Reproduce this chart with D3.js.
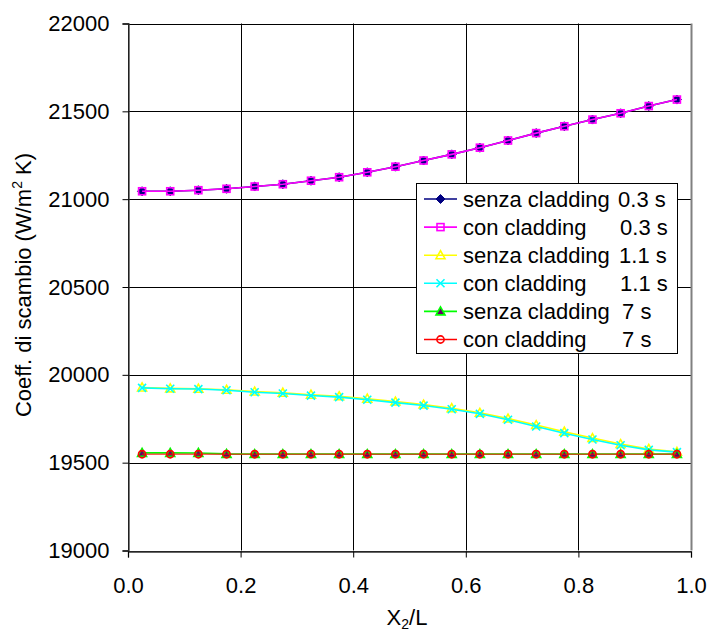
<!DOCTYPE html>
<html>
<head>
<meta charset="utf-8">
<script src="https://cdn.jsdelivr.net/npm/d3@7/dist/d3.min.js"></script>
<style>
  html, body { margin: 0; padding: 0; background: #fff; }
  svg { display: block; font-family: "Liberation Sans", Arial, sans-serif; }
</style>
</head>
<body>
<svg id="chart" width="709" height="632"></svg>
<script>
// ---- data ----
const xValues = [0.025, 0.075, 0.125, 0.175, 0.225, 0.275, 0.325, 0.375, 0.425, 0.475,
                 0.525, 0.575, 0.625, 0.675, 0.725, 0.775, 0.825, 0.875, 0.925, 0.975];
const senza03 = [21045, 21045, 21051, 21059, 21072, 21085, 21105, 21125, 21153, 21185,
                 21220, 21255, 21293, 21334, 21376, 21415, 21453, 21489, 21530, 21567];
const con03   = [21045, 21045, 21051, 21059, 21072, 21085, 21105, 21125, 21153, 21185,
                 21220, 21255, 21293, 21334, 21376, 21415, 21453, 21489, 21530, 21567];
const senza11 = [19928, 19923, 19921, 19915, 19905, 19898, 19887, 19878, 19864, 19848,
                 19831, 19810, 19784, 19751, 19714, 19676, 19640, 19606, 19578, 19562];
const con11   = [19926, 19921, 19919, 19912, 19901, 19894, 19882, 19873, 19858, 19842,
                 19825, 19804, 19778, 19744, 19706, 19668, 19632, 19599, 19573, 19560];
const senza7  = [19556, 19556, 19555, 19550, 19549, 19549, 19549, 19549, 19549, 19549,
                 19549, 19549, 19549, 19549, 19549, 19549, 19549, 19549, 19549, 19549];
const con7    = [19548, 19548, 19548, 19548, 19548, 19548, 19548, 19548, 19548, 19548,
                 19548, 19548, 19548, 19548, 19548, 19548, 19548, 19548, 19548, 19548];
const xTicks = [0, 0.2, 0.4, 0.6, 0.8, 1.0];
const yTicks = [19000, 19500, 20000, 20500, 21000, 21500, 22000];
const legendNames = ["senza cladding", "con cladding", "senza cladding", "con cladding", "senza cladding", "con cladding"];
const legendTimes = ["0.3 s", "0.3 s", "1.1 s", "1.1 s", "7 s", "7 s"];

const series = [
  { values: senza03, color: "#000080", marker: "diamond", timeX: 618 },
  { values: con03,   color: "#ff00ff", marker: "square",  timeX: 620 },
  { values: senza11, color: "#ffff00", marker: "triangle", timeX: 619 },
  { values: con11,   color: "#00ffff", marker: "x",       timeX: 620 },
  { values: senza7,  color: "#00ff00", marker: "triFilled", timeX: 622 },
  { values: con7,    color: "#ff0000", marker: "circle",  timeX: 622 }
];

const svg = d3.select("#chart");
const pLeft = 128, pRight = 691, pTop = 23.5, pBottom = 550.5;
const FS = 22;

const x = d3.scaleLinear().domain([0, 1]).range([pLeft, pRight]);
const y = d3.scaleLinear().domain([19000, 22000]).range([pBottom, pTop]);

// grid
const grid = svg.append("g");
grid.selectAll("line.h").data(yTicks).join("line")
  .attr("x1", pLeft).attr("x2", pRight)
  .attr("y1", d => Math.round(y(d)) + 0.5).attr("y2", d => Math.round(y(d)) + 0.5)
  .attr("stroke", "#000").attr("stroke-width", 1);
grid.selectAll("line.v").data(xTicks).join("line")
  .attr("y1", pTop).attr("y2", pBottom)
  .attr("x1", d => Math.round(x(d)) + 0.5).attr("x2", d => Math.round(x(d)) + 0.5)
  .attr("stroke", d => d === 1 ? "#808080" : "#000").attr("stroke-width", d => d === 1 ? 2 : 1);

// axes
const yAxis = d3.axisLeft(y).tickValues(yTicks).tickSize(6).tickPadding(13).tickFormat(d3.format("d"));
const gy = svg.append("g").attr("transform", `translate(${pLeft + 0.5},0)`).call(yAxis);
const xAxis = d3.axisBottom(x).tickValues(xTicks).tickSize(6).tickPadding(20).tickFormat(d3.format(".1f"));
const gx = svg.append("g").attr("transform", `translate(0,${Math.round(pBottom) + 0.5})`).call(xAxis);
[gy, gx].forEach(g => {
  g.selectAll("path.domain").attr("stroke", "#333").attr("stroke-width", 1.3);
  g.selectAll(".tick line").attr("stroke", "#000");
  g.selectAll(".tick text").attr("font-size", FS).attr("fill", "#000")
    .attr("font-family", "Liberation Sans, Arial, sans-serif");
});
gx.selectAll(".tick text").attr("dy", "0.71em");

// markers
function drawMarker(g, type, color, cx, cy) {
  switch (type) {
    case "diamond":
      g.append("path").attr("d", `M${cx},${cy-4.5}L${cx+4.5},${cy}L${cx},${cy+4.5}L${cx-4.5},${cy}Z`)
        .attr("fill", color).attr("stroke", color).attr("stroke-width", 1);
      break;
    case "square":
      g.append("rect").attr("x", cx - 3.5).attr("y", cy - 3.5).attr("width", 7).attr("height", 7)
        .attr("fill", "none").attr("stroke", color).attr("stroke-width", 1.6);
      break;
    case "triangle":
      g.append("path").attr("d", `M${cx},${cy-4.5}L${cx+4.5},${cy+3.5}L${cx-4.5},${cy+3.5}Z`)
        .attr("fill", "none").attr("stroke", color).attr("stroke-width", 1.6);
      break;
    case "triFilled":
      g.append("path").attr("d", `M${cx},${cy-4.5}L${cx+4.5},${cy+3.5}L${cx-4.5},${cy+3.5}Z`)
        .attr("fill", "#660066").attr("stroke", color).attr("stroke-width", 1.6);
      break;
    case "x":
      g.append("path").attr("d", `M${cx-4},${cy-4}L${cx+4},${cy+4}M${cx+4},${cy-4}L${cx-4},${cy+4}`)
        .attr("fill", "none").attr("stroke", color).attr("stroke-width", 1.6);
      break;
    case "circle":
      g.append("circle").attr("cx", cx).attr("cy", cy).attr("r", 3.6)
        .attr("fill", "none").attr("stroke", color).attr("stroke-width", 1.6);
      break;
  }
}

const line = d3.line().x(d => x(d[0])).y(d => y(d[1]));
const plot = svg.append("g");
series.forEach((s, i) => {
  const pts = xValues.map((xv, j) => [xv, s.values[j]]);
  const g = plot.append("g");
  g.append("path").datum(pts).attr("d", line)
    .attr("fill", "none").attr("stroke", s.color).attr("stroke-width", 1.6)
    .attr("stroke-opacity", i === 5 ? 0.65 : 1);
  pts.forEach(p => drawMarker(g, s.marker, s.color, x(p[0]), y(p[1])));
});

// legend
const lg = svg.append("g");
lg.append("rect").attr("x", 416.5).attr("y", 183.5).attr("width", 261).attr("height", 170)
  .attr("fill", "#fff").attr("stroke", "#000").attr("stroke-width", 1);
const rowY0 = 199, rowStep = 28.1;
series.forEach((s, i) => {
  const cy = rowY0 + i * rowStep;
  lg.append("line").attr("x1", 424).attr("x2", 457).attr("y1", cy).attr("y2", cy)
    .attr("stroke", s.color).attr("stroke-width", 1.6);
  drawMarker(lg, s.marker, s.color, 440.5, cy);
  const t = lg.append("text").attr("x", 463).attr("y", cy).attr("dy", "0.36em")
    .attr("font-size", FS).attr("fill", "#000");
  t.append("tspan").text(legendNames[i]);
  t.append("tspan").attr("x", s.timeX).text(" " + legendTimes[i]).attr("dx", -6);
});

// axis titles
const yt = svg.append("text").attr("transform", "translate(31,285) rotate(-90)")
  .attr("text-anchor", "middle").attr("font-size", FS).attr("fill", "#000");
yt.append("tspan").text("Coeff. di scambio (W/m");
yt.append("tspan").text("2").attr("font-size", 14).attr("dy", -9);
yt.append("tspan").text(" K)").attr("dy", 9);

const xt = svg.append("text").attr("x", 407).attr("y", 625)
  .attr("text-anchor", "middle").attr("font-size", FS).attr("fill", "#000");
xt.append("tspan").text("X");
xt.append("tspan").text("2").attr("font-size", 14).attr("dy", 4);
xt.append("tspan").text("/L").attr("dy", -4);
</script>
</body>
</html>
